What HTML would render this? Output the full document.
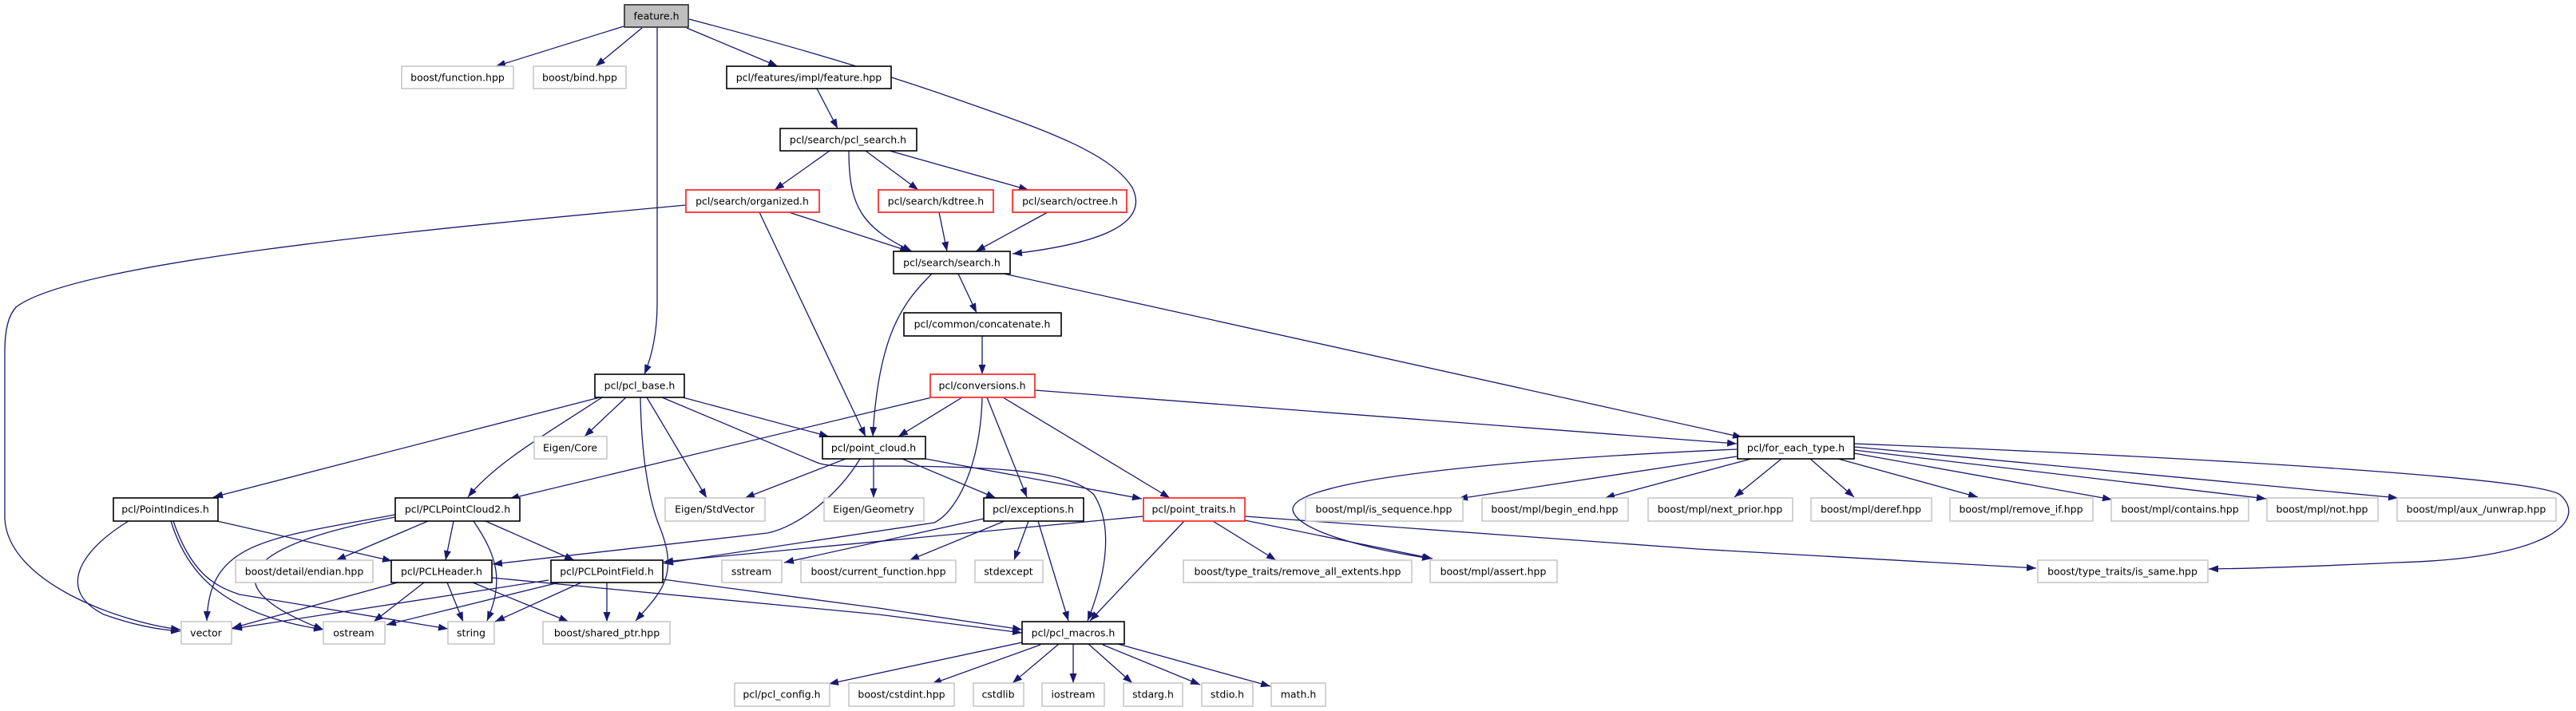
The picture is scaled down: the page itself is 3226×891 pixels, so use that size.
<!DOCTYPE html>
<html><head><meta charset="utf-8"><style>
html,body{margin:0;padding:0;background:#fff;}
svg{display:block;}
text{font-family:"DejaVu Sans","Liberation Sans",sans-serif;font-size:12.5px;fill:#000;text-anchor:middle;dominant-baseline:central;}
.n{fill:#fff;stroke:#000;stroke-width:1.6;}
.g{fill:#fff;stroke:#c8c8c8;stroke-width:1.6;}
.r{fill:#fff;stroke:#ff3030;stroke-width:1.8;}
.e path,.e line{fill:none;stroke:#191970;stroke-width:1.3;marker-end:url(#a);}
</style></head><body>
<svg width="3226" height="891" viewBox="0 0 3226 891" xmlns="http://www.w3.org/2000/svg">
<defs><marker id="a" markerUnits="userSpaceOnUse" markerWidth="14" markerHeight="10" refX="12" refY="4.5" orient="auto"><path d="M0,0 L12,4.5 L0,9 Z" fill="#191970"/></marker></defs>
<g class="e">
<line x1="781" y1="33" x2="621" y2="83"/>
<line x1="804" y1="35" x2="746" y2="83"/>
<line x1="860" y1="35" x2="974" y2="83"/>
<path d="M863,24 C1000,60 1100,90 1200,125 C1300,160 1390,190 1418,235 C1440,280 1380,305 1268,318"/>
<path d="M823,34 L823,380 Q823,430 807,469"/>
<line x1="1023" y1="111" x2="1049" y2="161"/>
<line x1="1039" y1="189" x2="970" y2="238"/>
<line x1="1084" y1="189" x2="1150" y2="238"/>
<line x1="1114" y1="189" x2="1288" y2="238"/>
<path d="M1063,189 C1063,260 1080,285 1142,315"/>
<line x1="988" y1="266" x2="1139" y2="315"/>
<line x1="1176" y1="266" x2="1186" y2="315"/>
<line x1="1312" y1="266" x2="1222" y2="315"/>
<path d="M859,257 C500,290 90,330 20,385 Q6,400 6,440 L6,650 C10,730 150,780 226,789"/>
<line x1="951" y1="266" x2="1084" y2="547"/>
<path d="M1167,343 C1130,380 1100,420 1093,547"/>
<line x1="1200" y1="343" x2="1223" y2="392"/>
<line x1="1257" y1="343" x2="2182" y2="548"/>
<line x1="1230" y1="421" x2="1230" y2="469"/>
<line x1="1167" y1="498" x2="638" y2="625"/>
<line x1="1205" y1="498" x2="1125" y2="547"/>
<line x1="1236" y1="498" x2="1286" y2="623"/>
<line x1="1256" y1="498" x2="1465" y2="624"/>
<line x1="1296" y1="489" x2="2175" y2="556"/>
<path d="M1230,498 C1228,580 1200,640 1170,655 L831,706"/>
<line x1="1059" y1="575" x2="933" y2="624"/>
<line x1="1094" y1="575" x2="1094" y2="624"/>
<line x1="1130" y1="575" x2="1247" y2="624"/>
<line x1="1159" y1="575" x2="1430" y2="625"/>
<path d="M1077,575 C1050,620 1000,660 961,668 L617,707"/>
<line x1="751" y1="498" x2="267" y2="623"/>
<path d="M754,498 C690,540 620,580 586,623"/>
<line x1="784" y1="498" x2="732" y2="547"/>
<line x1="810" y1="498" x2="885" y2="624"/>
<path d="M802,498 C803,560 810,620 826,660 C850,720 830,740 796,778"/>
<line x1="855" y1="498" x2="1038" y2="547"/>
<path d="M829,498 L1024,580 Q1040,586 1100,584 C1250,584 1340,590 1370,620 C1395,660 1385,720 1362,778"/>
<path d="M161,653 C100,690 70,740 130,770 Q180,788 226,791"/>
<path d="M214,653 C235,720 280,770 405,789"/>
<path d="M217,653 C240,720 270,735 300,745 L561,788"/>
<line x1="272" y1="653" x2="491" y2="703"/>
<path d="M495,645 C330,675 262,680 259,778"/>
<path d="M495,648 C320,680 250,730 405,789"/>
<line x1="536" y1="653" x2="421" y2="702"/>
<line x1="568" y1="653" x2="558" y2="702"/>
<path d="M593,653 C625,700 630,730 610,778"/>
<line x1="608" y1="653" x2="719" y2="702"/>
<line x1="498" y1="730" x2="291" y2="787"/>
<line x1="531" y1="730" x2="468" y2="779"/>
<line x1="560" y1="730" x2="580" y2="779"/>
<line x1="592" y1="730" x2="712" y2="779"/>
<path d="M616,724 L1100,770 L1280,793"/>
<path d="M687,727 L291,788"/>
<line x1="700" y1="730" x2="484" y2="783"/>
<line x1="728" y1="730" x2="620" y2="779"/>
<line x1="760" y1="730" x2="760" y2="779"/>
<path d="M830,726 L1100,762 L1280,789"/>
<line x1="1232" y1="650" x2="982" y2="705"/>
<line x1="1258" y1="653" x2="1139" y2="702"/>
<line x1="1288" y1="653" x2="1270" y2="702"/>
<line x1="1300" y1="653" x2="1338" y2="778"/>
<line x1="1432" y1="647" x2="831" y2="704"/>
<line x1="1483" y1="653" x2="1365" y2="778"/>
<line x1="1519" y1="653" x2="1598" y2="702"/>
<line x1="1559" y1="652" x2="1794" y2="700"/>
<path d="M1559,647 L2126,688 L2550,712"/>
<line x1="1280" y1="805" x2="1038" y2="857"/>
<line x1="1303" y1="808" x2="1167" y2="857"/>
<line x1="1326" y1="807" x2="1268" y2="856"/>
<line x1="1344" y1="807" x2="1344" y2="856"/>
<line x1="1363" y1="807" x2="1418" y2="856"/>
<line x1="1381" y1="808" x2="1503" y2="858"/>
<line x1="1400" y1="807" x2="1591" y2="860"/>
<line x1="2175" y1="572" x2="1826" y2="625"/>
<line x1="2193" y1="575" x2="2010" y2="624"/>
<line x1="2231" y1="575" x2="2172" y2="623"/>
<line x1="2267" y1="575" x2="2322" y2="623"/>
<line x1="2302" y1="575" x2="2477" y2="623"/>
<line x1="2322" y1="568" x2="2645" y2="626"/>
<line x1="2322" y1="564" x2="2838" y2="625"/>
<line x1="2322" y1="560" x2="3003" y2="624"/>
<path d="M2322,556 C2800,575 3180,600 3206,620 C3240,650 3200,700 3000,705 Q2850,712 2766,713"/>
<path d="M2175,563 C1900,575 1620,600 1619,638 C1620,665 1720,690 1793,700"/>
</g>
<g>
<rect x="782" y="6" width="80" height="28" fill="#bfbfbf" stroke="#404040" stroke-width="1.8"/><text x="822" y="20">feature.h</text>
<rect class="g" x="503" y="83" width="140" height="28"/><text x="573" y="97">boost/function.hpp</text>
<rect class="g" x="668" y="83" width="116" height="28"/><text x="726" y="97">boost/bind.hpp</text>
<rect class="n" x="910" y="83" width="206" height="28"/><text x="1013" y="97">pcl/features/impl/feature.hpp</text>
<rect class="n" x="977" y="161" width="171" height="28"/><text x="1062" y="175">pcl/search/pcl_search.h</text>
<rect class="r" x="859" y="238" width="167" height="28"/><text x="942" y="252">pcl/search/organized.h</text>
<rect class="r" x="1100" y="238" width="144" height="28"/><text x="1172" y="252">pcl/search/kdtree.h</text>
<rect class="r" x="1268" y="238" width="143" height="28"/><text x="1340" y="252">pcl/search/octree.h</text>
<rect class="n" x="1119" y="315" width="146" height="28"/><text x="1192" y="329">pcl/search/search.h</text>
<rect class="n" x="1132" y="392" width="197" height="29"/><text x="1230" y="406">pcl/common/concatenate.h</text>
<rect class="n" x="745" y="469" width="112" height="29"/><text x="801" y="483">pcl/pcl_base.h</text>
<rect class="r" x="1165" y="469" width="131" height="29"/><text x="1230" y="483">pcl/conversions.h</text>
<rect class="g" x="669" y="547" width="91" height="28"/><text x="714" y="561">Eigen/Core</text>
<rect class="n" x="1030" y="547" width="129" height="28"/><text x="1094" y="561">pcl/point_cloud.h</text>
<rect class="n" x="2176" y="547" width="146" height="28"/><text x="2249" y="561">pcl/for_each_type.h</text>
<rect class="n" x="142" y="624" width="131" height="29"/><text x="207" y="638">pcl/PointIndices.h</text>
<rect class="n" x="495" y="624" width="156" height="29"/><text x="573" y="638">pcl/PCLPointCloud2.h</text>
<rect class="g" x="833" y="624" width="125" height="29"/><text x="895" y="638">Eigen/StdVector</text>
<rect class="g" x="1032" y="624" width="125" height="29"/><text x="1094" y="638">Eigen/Geometry</text>
<rect class="n" x="1232" y="624" width="125" height="29"/><text x="1294" y="638">pcl/exceptions.h</text>
<rect class="r" x="1432" y="624" width="127" height="29"/><text x="1495" y="638">pcl/point_traits.h</text>
<rect class="g" x="1635" y="624" width="197" height="29"/><text x="1733" y="638">boost/mpl/is_sequence.hpp</text>
<rect class="g" x="1856" y="624" width="183" height="29"/><text x="1947" y="638">boost/mpl/begin_end.hpp</text>
<rect class="g" x="2064" y="624" width="181" height="29"/><text x="2154" y="638">boost/mpl/next_prior.hpp</text>
<rect class="g" x="2268" y="624" width="151" height="29"/><text x="2343" y="638">boost/mpl/deref.hpp</text>
<rect class="g" x="2442" y="624" width="179" height="29"/><text x="2531" y="638">boost/mpl/remove_if.hpp</text>
<rect class="g" x="2644" y="624" width="172" height="29"/><text x="2730" y="638">boost/mpl/contains.hpp</text>
<rect class="g" x="2839" y="624" width="139" height="29"/><text x="2908" y="638">boost/mpl/not.hpp</text>
<rect class="g" x="3002" y="624" width="199" height="29"/><text x="3101" y="638">boost/mpl/aux_/unwrap.hpp</text>
<rect class="g" x="295" y="702" width="172" height="28"/><text x="381" y="716">boost/detail/endian.hpp</text>
<rect class="n" x="490" y="702" width="126" height="28"/><text x="553" y="716">pcl/PCLHeader.h</text>
<rect class="n" x="690" y="702" width="140" height="28"/><text x="760" y="716">pcl/PCLPointField.h</text>
<rect class="g" x="904" y="702" width="75" height="28"/><text x="941" y="716">sstream</text>
<rect class="g" x="1003" y="702" width="194" height="28"/><text x="1100" y="716">boost/current_function.hpp</text>
<rect class="g" x="1221" y="702" width="85" height="28"/><text x="1263" y="716">stdexcept</text>
<rect class="g" x="1482" y="702" width="286" height="28"/><text x="1625" y="716">boost/type_traits/remove_all_extents.hpp</text>
<rect class="g" x="1791" y="702" width="159" height="28"/><text x="1870" y="716">boost/mpl/assert.hpp</text>
<rect class="g" x="2552" y="702" width="213" height="28"/><text x="2658" y="716">boost/type_traits/is_same.hpp</text>
<rect class="g" x="227" y="779" width="63" height="28"/><text x="258" y="793">vector</text>
<rect class="g" x="405" y="779" width="77" height="28"/><text x="443" y="793">ostream</text>
<rect class="g" x="561" y="779" width="58" height="28"/><text x="590" y="793">string</text>
<rect class="g" x="680" y="779" width="159" height="28"/><text x="760" y="793">boost/shared_ptr.hpp</text>
<rect class="n" x="1280" y="779" width="128" height="28"/><text x="1344" y="793">pcl/pcl_macros.h</text>
<rect class="g" x="920" y="856" width="119" height="29"/><text x="979" y="870">pcl/pcl_config.h</text>
<rect class="g" x="1063" y="856" width="132" height="29"/><text x="1129" y="870">boost/cstdint.hpp</text>
<rect class="g" x="1219" y="856" width="63" height="29"/><text x="1250" y="870">cstdlib</text>
<rect class="g" x="1305" y="856" width="78" height="29"/><text x="1344" y="870">iostream</text>
<rect class="g" x="1407" y="856" width="74" height="29"/><text x="1444" y="870">stdarg.h</text>
<rect class="g" x="1505" y="856" width="64" height="29"/><text x="1537" y="870">stdio.h</text>
<rect class="g" x="1592" y="856" width="68" height="29"/><text x="1626" y="870">math.h</text>
</g>
</svg>
</body></html>
